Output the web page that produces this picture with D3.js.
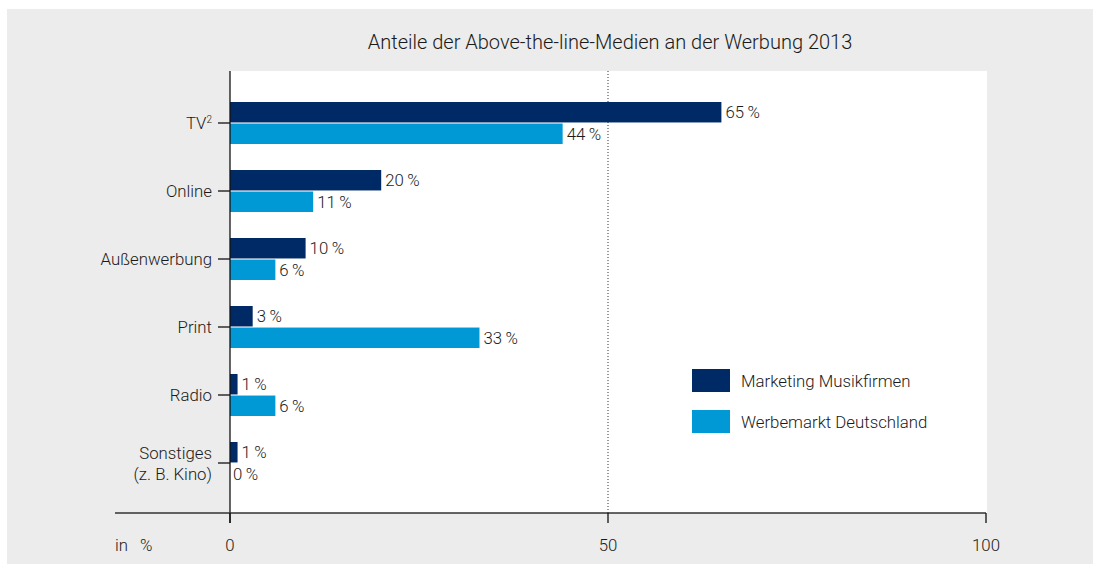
<!DOCTYPE html>
<html><head><meta charset="utf-8">
<script src="https://cdn.jsdelivr.net/npm/d3@7"></script>
<style>body{margin:0;background:#fff}svg{display:block}text{font-family:Roboto,"Liberation Sans",Arial,sans-serif;font-weight:300;fill:#1a1a1a}</style>
</head><body><svg id="c" width="1093" height="564"></svg>
<script>
const categories = ["TV", "Online", "Außenwerbung", "Print", "Radio", "Sonstiges"];
const categoryLines = [["TV²"], ["Online"], ["Außenwerbung"], ["Print"], ["Radio"], ["Sonstiges", "(z. B. Kino)"]];
const seriesNames = ["Marketing Musikfirmen", "Werbemarkt Deutschland"];
const musikfirmen = [65, 20, 10, 3, 1, 1];
const werbemarkt = [44, 11, 6, 33, 6, 0];
const xTicks = [0, 50, 100];
const colors = ["#002a66", "#0099d6"];
const title = "Anteile der Above-the-line-Medien an der Werbung 2013";

const svg = d3.select("#c");
svg.append("rect").attr("x",7).attr("y",9).attr("width",1086).attr("height",555).attr("fill","#ebeceb");

const x = d3.scaleLinear().domain([0,100]).range([230,986]);
const y = d3.scaleBand().domain(categories).range([89,497]).paddingInner(0).paddingOuter(0);
const sub = d3.scaleBand().domain([0,1]).range([-21,21]).paddingInner(0.05);

svg.append("rect").attr("x",x(0)).attr("y",71).attr("width",x(100)-x(0)+1).attr("height",513-71).attr("fill","#fff");

svg.append("line").attr("x1",x(50)).attr("x2",x(50)).attr("y1",71).attr("y2",513)
  .attr("stroke","#333").attr("stroke-width",1).attr("stroke-dasharray","1,2");

svg.append("text").attr("x",610).attr("y",49).attr("text-anchor","middle").style("font-size","20px").text(title);

const FS = "16.8px";
const series = [musikfirmen, werbemarkt];
series.forEach((vals,si)=>{
  const g = svg.append("g");
  categories.forEach((c,i)=>{
    const cy = y(c)+y.bandwidth()/2;
    const by = cy + sub(si);
    if (vals[i] > 0) g.append("rect").attr("x",x(0)).attr("y",by).attr("width",x(vals[i])-x(0)).attr("height",sub.bandwidth()).attr("fill",colors[si]);
    g.append("text").attr("x",x(vals[i])+ (vals[i]>0?4:3)).attr("y",by+sub.bandwidth()/2+6)
      .style("font-size",FS).text(vals[i]+"\u2009%");
  });
});

svg.append("line").attr("x1",x(0)).attr("x2",x(0)).attr("y1",71).attr("y2",523).attr("stroke","#111").attr("stroke-width",1.3);
categories.forEach((c,i)=>{
  const cy = y(c)+y.bandwidth()/2;
  svg.append("line").attr("x1",218).attr("x2",x(0)).attr("y1",cy).attr("y2",cy).attr("stroke","#111").attr("stroke-width",1.3);
  const lines = categoryLines[i];
  lines.forEach((l,li)=>{
    const t = svg.append("text").attr("x",212).attr("text-anchor","end").style("font-size",FS)
      .attr("y", cy + 6 + (li - (lines.length-1)/2)*21);
    if (l.endsWith("²")) {
      t.append("tspan").text(l.slice(0,-1));
      t.append("tspan").attr("dy",-6).style("font-size","10px").text("2");
    } else t.text(l);
  });
});

const xa = svg.append("g").attr("transform","translate(0,513)");
xa.append("line").attr("x1",115).attr("x2",x(100)).attr("stroke","#333").attr("stroke-width",1.3);
xTicks.forEach(t=>{
  xa.append("line").attr("x1",x(t)).attr("x2",x(t)).attr("y1",0).attr("y2",10).attr("stroke","#111").attr("stroke-width",1.3);
  xa.append("text").attr("x",x(t)).attr("y",38).attr("text-anchor","middle").style("font-size",FS).text(t);
});
svg.append("text").attr("x",115).attr("y",551).style("font-size",FS).text("in\u2002\u2009%");

seriesNames.forEach((n,i)=>{
  svg.append("rect").attr("x",692).attr("y",369+i*41).attr("width",38).attr("height",23).attr("fill",colors[i]);
  svg.append("text").attr("x",741).attr("y",387+i*41).style("font-size",FS).text(n);
});
</script></body></html>
